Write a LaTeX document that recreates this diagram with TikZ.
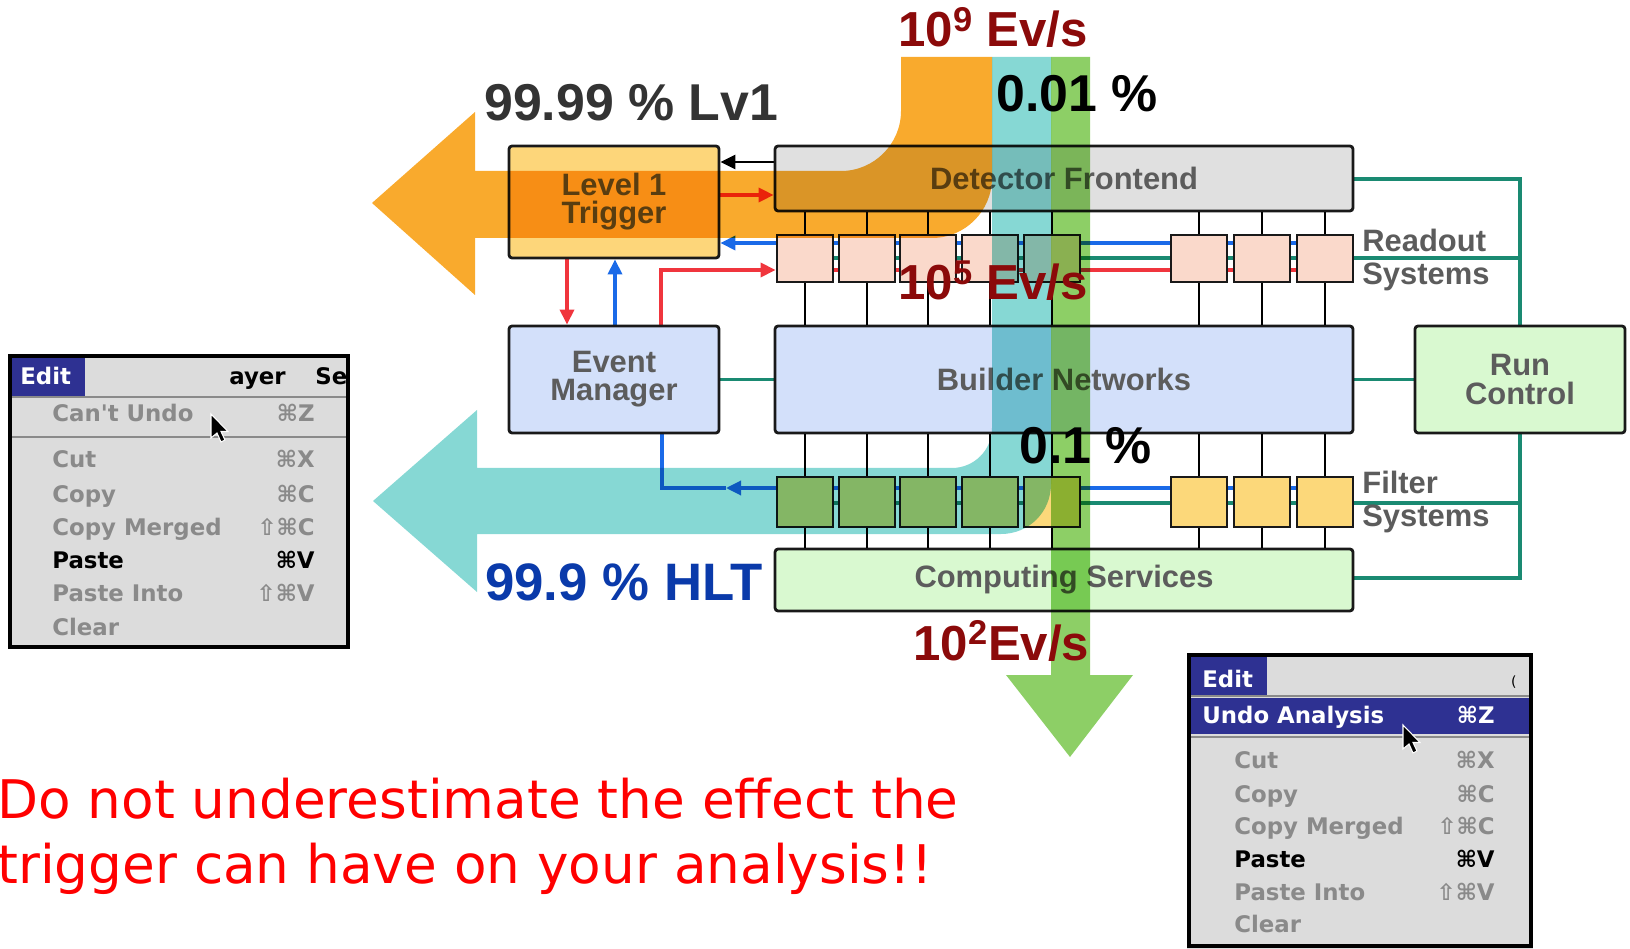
\documentclass[tikz,border=0pt]{standalone}
\usepackage{fontspec}
\setmainfont{Liberation Sans}
\newfontfamily\menufont{DejaVu Sans}
\newfontfamily\notefont{DejaVu Sans}
\usetikzlibrary{arrows.meta}

\definecolor{bandorange}{HTML}{F9AA2D}
\definecolor{bandteal}{HTML}{86D8D4}
\definecolor{bandgreen}{HTML}{8DCF66}
\definecolor{trigyellow}{HTML}{FDD67A}
\definecolor{frontgray}{HTML}{E0E0E0}
\definecolor{readpink}{HTML}{FAD9CB}
\definecolor{netblue}{HTML}{D3E0FA}
\definecolor{ctrlgreen}{HTML}{D9F9D0}
\definecolor{filteryellow}{HTML}{FCD87A}
\definecolor{labelgray}{HTML}{5C5C5C}
\definecolor{ratered}{HTML}{8B0A0A}
\definecolor{hltblue}{HTML}{0A3AAA}
\definecolor{wireblue}{HTML}{1A6AE8}
\definecolor{wirered}{HTML}{F0353D}
\definecolor{wireteal}{HTML}{1A8A72}
\definecolor{menublue}{HTML}{2E3192}
\definecolor{menubg}{HTML}{DCDCDC}
\definecolor{menugray}{HTML}{8A8A8A}

\pgfdeclarelayer{back}
\pgfdeclarelayer{bands}
\pgfdeclarelayer{front}
\pgfsetlayers{back,main,bands,front}

\tikzset{
  block/.style={draw=black!90, line width=1.6pt, rounded corners=0.06cm, text=labelgray,
    font=\fontsize{17.6}{16}\selectfont\bfseries, align=center, inner sep=0pt},
  unit/.style={draw=black!90, line width=1.6pt, minimum width=1.12cm, inner sep=0pt},
  sidelabel/.style={text=labelgray, font=\fontsize{17.6}{19.3}\selectfont\bfseries,
    align=left, inner sep=0pt, anchor=west},
  rate/.style={font=\fontsize{28}{30}\selectfont\bfseries, inner sep=0pt, anchor=base west},
  share/.style={font=\fontsize{29.5}{31}\selectfont\bfseries, inner sep=0pt, anchor=base west},
  wire/.style={line width=1.4pt},
  cwire/.style={line width=1.9pt},
  arrowtip/.style={-{Triangle[length=0.3cm,width=0.28cm]}},
  menuitem/.style={font=\menufont\fontsize{13}{15}\selectfont\bfseries, inner sep=0pt},
  note/.style={text=red, font=\notefont\fontsize{30.3}{36}\selectfont, inner sep=0pt, anchor=base west}
}

\newcommand{\macpointer}[1]{%
  \filldraw[fill=black, draw=white, line width=0.6pt, shift={#1}]
    (0,0) -- (0,24) -- (6,19) -- (10,28) -- (14,26) -- (10,17.5) -- (17,17.5) -- cycle;}

\begin{document}
\begin{tikzpicture}[x=0.02cm, y=-0.02cm]
    \useasboundingbox (0,0) rectangle (1630,949);

    % DAQ blocks
    \node[block, fill=trigyellow, minimum width=4.2cm, minimum height=2.24cm] (l1) at (614,202) {Level 1\\Trigger};
    \node[block, fill=frontgray, minimum width=11.56cm, minimum height=1.3cm] (det) at (1064,178.5) {Detector Frontend};
    \node[block, fill=netblue, minimum width=4.2cm, minimum height=2.14cm] (em) at (614,379.5) {Event\\Manager};
    \node[block, fill=netblue, minimum width=11.56cm, minimum height=2.14cm] (bn) at (1064,379.5) {Builder Networks};
    \node[block, fill=ctrlgreen, minimum width=4.2cm, minimum height=2.14cm] (rc) at (1520,379.5) {Run\\Control};
    \node[block, fill=ctrlgreen, minimum width=11.56cm, minimum height=1.24cm] (cs) at (1064,580) {Computing Services};

    % readout and filter units
    \foreach \i/\x in {1/805,2/867,3/928,4/990,5/1052,6/1199,7/1262,8/1325} {
      \node[unit, fill=readpink, minimum height=0.94cm] (ro\i) at (\x,258.5) {};
      \node[unit, fill=filteryellow, minimum height=1cm] (fs\i) at (\x,502) {};
      \draw[wire] (det.south -| ro\i) -- (ro\i.north);
      \draw[wire] (ro\i.south) -- (ro\i.south |- bn.north);
      \draw[wire] (bn.south -| fs\i) -- (fs\i.north);
      \draw[wire] (fs\i.south) -- (fs\i.south |- cs.north);
    }
    \node[sidelabel] (rolabel) at (1362,260) {Readout\\Systems};
    \node[sidelabel] (fslabel) at (1362,502) {Filter\\Systems};

    % control and data links
    \begin{pgfonlayer}{back}
    \draw[wire, arrowtip] (det.west |- 0,162) -- (l1.east |- 0,162);
    \draw[cwire, wirered, arrowtip] (l1.east |- 0,195) -- (det.west |- 0,195);
    \draw[cwire, wireblue, arrowtip] (ro8.center |- 0,243) -- (l1.east |- 0,243);
    \draw[cwire, wirered] (ro1.west |- 0,270) -- (ro8.center |- 0,270);
    \draw[cwire, wirered, arrowtip] (l1.south -| 567,0) -- (em.north -| 567,0);
    \draw[cwire, wireblue, arrowtip] (em.north -| 615,0) -- (l1.south -| 615,0);
    \draw[cwire, wirered, arrowtip] (em.north -| 661,0) |- (ro1.west |- 0,270);
    \coordinate (fsmid) at (726,488);
    \draw[cwire, wireblue, arrowtip] (fs8.center |- 0,488) -- (fsmid);
    \draw[cwire, wireblue] (fsmid) -| (em.south -| 662,0);
    % run control links
    \draw[cwire, wireteal] (em.east) -- (bn.west);
    \draw[cwire, wireteal] (bn.east) -- (rc.west);
    \draw[cwire, wireteal] (det.east |- 0,179) -| (rc.north);
    \draw[cwire, wireteal] (rc.south) |- (cs.east |- 0,578);
    \draw[cwire, wireteal] (ro1.center |- 0,258) -- (rc.north |- 0,258);
    \draw[cwire, wireteal] (fs1.center |- 0,503) -- (rc.south |- 0,503);
    \end{pgfonlayer}

    % event rate bands
    \begin{pgfonlayer}{bands}
    \begin{scope}[blend mode=multiply]
    \fill[bandorange] (901,57) -- (992,57) -- (992,178) .. controls (992,211) and (965,238) .. (932,238)
      -- (475,238) -- (475,295) -- (372,203) -- (475,112) -- (475,171) -- (841,171)
      .. controls (874,171) and (901,144) .. (901,111) -- cycle;
    \fill[bandteal] (992,57) -- (1051,57) -- (1051,484) .. controls (1051,512) and (1029,534) .. (1001,534)
      -- (477,534) -- (477,592) -- (373,501) -- (477,410) -- (477,468) -- (952,468)
      .. controls (974,468) and (992,450) .. (992,428) -- cycle;
    \fill[bandgreen] (1051,57) -- (1090,57) -- (1090,675) -- (1133,675) -- (1070,757)
      -- (1006,675) -- (1051,675) -- cycle;
    \end{scope}
    \end{pgfonlayer}

    % rates
    \begin{pgfonlayer}{front}
    \node[rate, text=ratered] (rate9) at (898,47) {10\textsuperscript{9} Ev/s};
    \node[share] (pass1) at (996,112) {0.01 \%};
    \node[share, text=black!80] (lv1) at (484,121) {99.99 \% Lv1};
    \node[rate, text=ratered] (rate5) at (898,300) {10\textsuperscript{5} Ev/s};
    \node[share] (pass2) at (1019,463) {0.1 \%};
    \node[share, text=hltblue, font=\fontsize{30}{31}\selectfont\bfseries] (hlt) at (485,600) {99.9 \% HLT};
    \node[rate, text=ratered] (rate2) at (913,660) {10\textsuperscript{2}Ev/s};
    \end{pgfonlayer}

    % left menu
    \fill[menubg] (8,354) rectangle (350,649);
    \fill[menublue] (12,358) rectangle (85,396);
    \draw[menugray, line width=0.04cm] (12,397.5) -- (346,397.5);
    \draw[menugray, line width=0.04cm] (12,437) -- (346,437);
    \draw[line width=0.08cm] (10,356) rectangle (348,647);
    \node[menuitem, text=white, anchor=base west] (m1edit) at (20,385) {Edit};
    \node[menuitem, anchor=base west] (m1layer) at (229,385) {ayer};
    \node[menuitem, anchor=base west] (m1sel) at (315,385) {Se};
    \foreach \lbl/\key/\yb/\col [count=\i] in {Can't Undo/⌘Z/422/menugray, Cut/⌘X/468/menugray,
        Copy/⌘C/502/menugray, Copy Merged/⇧⌘C/535/menugray, Paste/⌘V/568/black,
        Paste Into/⇧⌘V/601/menugray, Clear//635/menugray} {
      \node[menuitem, text=\col, anchor=base west] (m1item\i) at (52,\yb) {\lbl};
      \node[menuitem, text=\col, anchor=base east] (m1key\i) at (315,\yb) {\key};
    }
    \macpointer{(211,414)}

    % right menu
    \fill[menubg] (1187,653) rectangle (1533,949);
    \fill[menublue] (1191,657) rectangle (1267,695);
    \fill[menublue] (1191,698) rectangle (1529,734);
    \draw[menugray, line width=0.04cm] (1191,696) -- (1529,696);
    \draw[menugray, line width=0.04cm] (1191,737) -- (1529,737);
    \draw[line width=0.08cm] (1189,655) rectangle (1531,946);
    \node[menuitem, text=white, anchor=base west] (m2edit) at (1202,687) {Edit};
    \node[menuitem, anchor=base east, font=\menufont\fontsize{8}{9}\selectfont] (m2next) at (1517,686) {(};
    \node[menuitem, text=white, anchor=base west] (m2undo) at (1202,723) {Undo Analysis};
    \node[menuitem, text=white, anchor=base east] (m2undokey) at (1495,723) {⌘Z};
    \foreach \lbl/\key/\yb/\col [count=\i] in {Cut/⌘X/768/menugray, Copy/⌘C/802/menugray,
        Copy Merged/⇧⌘C/834/menugray, Paste/⌘V/867/black,
        Paste Into/⇧⌘V/900/menugray, Clear//932/menugray} {
      \node[menuitem, text=\col, anchor=base west] (m2item\i) at (1234,\yb) {\lbl};
      \node[menuitem, text=\col, anchor=base east] (m2key\i) at (1495,\yb) {\key};
    }
    \macpointer{(1403,725)}

    % warning
    \node[note] (warn1) at (-3,818) {Do not underestimate the effect the};
    \node[note] (warn2) at (-3,883) {trigger can have on your analysis!!};
\end{tikzpicture}
\end{document}
